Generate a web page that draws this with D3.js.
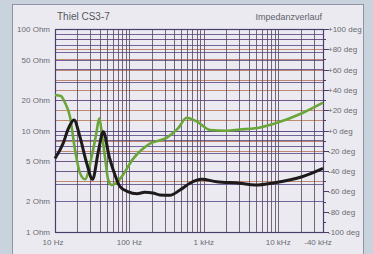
<!DOCTYPE html>
<html>
<head>
<meta charset="utf-8">
<script src="https://cdn.jsdelivr.net/npm/d3@7"></script>
<style>
  html, body { margin: 0; padding: 0; background: #c9d3de; }
  svg { display: block; font-family: "Liberation Sans", Arial, sans-serif; }
</style>
</head>
<body>
<div id="chart"></div>
<script>
// impedance curve (black), Ohm
const zFreq = [10, 12.9, 15, 18, 21.6, 26.7, 32, 38.2, 44.6, 53.6, 64, 74.8, 95, 127, 160, 207, 257, 350, 478, 650, 935, 1490, 3040, 4900, 9000, 20900, 40000];
const zOhm  = [5.3, 7.5, 10.3, 12.7, 8.7, 4.75, 3.3, 6.2, 9.7, 5.5, 3.65, 2.8, 2.5, 2.38, 2.46, 2.42, 2.32, 2.3, 2.59, 3.02, 3.3, 3.13, 3.02, 2.9, 3.06, 3.5, 4.24];

// phase curve (green), degrees
const pFreq = [10, 12, 13.5, 15.9, 18.6, 21.7, 25.3, 31.1, 35.5, 39.4, 43, 46.9, 52, 57.8, 66, 78.6, 112, 189, 320, 450, 588, 800, 1210, 2030, 3040, 4900, 9000, 20900, 40000];
const pDeg  = [35, 34, 28, 13.6, -19.2, -42, -48, -25.8, -5, 12, -5, -25.8, -48.8, -53.7, -52, -45.5, -28, -13, -7, 2, 12.5, 9, 0.5, -0.2, 1, 2.2, 7, 17, 27.4];

const ohmTicks = [1, 2, 5, 10, 20, 50, 100];
const ohmLabels = ["1 Ohm", "2 Ohm", "5 Ohm", "10 Ohm", "20 Ohm", "50 Ohm", "100 Ohm"];
const degTicks = [100, 80, 60, 40, 20, 0, -20, -40, -60, -80, -100];
const degLabels = ["+100 deg", "+80 deg", "+60 deg", "+40 deg", "+20 deg", "+0 deg", "-20 deg", "-40 deg", "-60 deg", "-80 deg", "-100 deg"];
const freqTicks = [10, 100, 1000, 10000, 40000];
const freqLabels = ["10 Hz", "100 Hz", "1 kHz", "10 kHz", "-40 kHz"];

const W = 373, H = 254;
const mLeft = 55, mRight = 323, mTop = 29, mBottom = 232;

const svg = d3.select("#chart").append("svg")
    .attr("width", W)
    .attr("height", H);

svg.append("rect")
    .attr("x", 12.5).attr("y", 4.5)
    .attr("width", 351).attr("height", 252)
    .attr("fill", "#ebeaf1")
    .attr("stroke", "#8f93a3")
    .attr("stroke-width", 1);

const x = d3.scaleLog().domain([10, 40000]).range([mLeft, mRight]);
const y = d3.scaleLog().domain([1, 100]).range([mBottom, mTop]);
const yDeg = d3.scaleLinear().domain([-100, 100]).range([mBottom, mTop]);

// grid lines
var vLines = [];
[10, 100, 1000, 10000].forEach(d => {
    for (var i = 1; i < 10; i++) { if (d * i <= 40000) vLines.push(d * i); }
});
var ohmLines = [];
[1, 10].forEach(d => {
    for (var i = 1; i <= 10; i++) { ohmLines.push(d * i); }
});
var degLines = d3.range(-50, 101, 10);

const grid = svg.append("g");
grid.selectAll(".deg").data(degLines).enter().append("line")
    .attr("x1", mLeft).attr("x2", mRight)
    .attr("y1", d => Math.round(yDeg(d)) + 0.5).attr("y2", d => Math.round(yDeg(d)) + 0.5)
    .attr("stroke", "#b7714f")
    .attr("stroke-width", 1)
    .attr("opacity", 0.8);
grid.selectAll(".ohm").data(ohmLines).enter().append("line")
    .attr("x1", mLeft).attr("x2", mRight)
    .attr("y1", d => Math.round(y(d)) + 0.5).attr("y2", d => Math.round(y(d)) + 0.5)
    .attr("stroke", "#5f4d8c")
    .attr("stroke-width", 1)
    .attr("opacity", 0.85);
grid.selectAll(".v").data(vLines).enter().append("line")
    .attr("x1", d => Math.round(x(d)) + 0.5).attr("x2", d => Math.round(x(d)) + 0.5)
    .attr("y1", mTop).attr("y2", mBottom)
    .attr("stroke", "#5a4660")
    .attr("stroke-width", 1)
    .attr("opacity", 0.8);

svg.append("rect")
    .attr("x", mLeft + 0.5).attr("y", mTop + 0.5)
    .attr("width", mRight - mLeft).attr("height", mBottom - mTop)
    .attr("fill", "none")
    .attr("stroke", "#4a3d6a")
    .attr("stroke-width", 1.2);

// right degree ticks
svg.selectAll(".dtick").data(d3.range(-100, 101, 10)).enter().append("line")
    .attr("x1", mRight).attr("x2", d => mRight + (d % 20 === 0 ? 6 : 3))
    .attr("y1", d => Math.round(yDeg(d)) + 0.5).attr("y2", d => Math.round(yDeg(d)) + 0.5)
    .attr("stroke", "#4a3d6a").attr("stroke-width", 1);

// curves
const phaseLine = d3.line()
    .x((d, i) => x(pFreq[i]))
    .y(d => yDeg(d))
    .curve(d3.curveMonotoneX);
const zLine = d3.line()
    .x((d, i) => x(zFreq[i]))
    .y(d => y(d))
    .curve(d3.curveMonotoneX);

svg.append("path").datum(pDeg)
    .attr("d", phaseLine)
    .attr("fill", "none")
    .attr("stroke", "#6aa63a")
    .attr("stroke-width", 2.6)
    .attr("stroke-linejoin", "round");
svg.append("path").datum(zOhm)
    .attr("d", zLine)
    .attr("fill", "none")
    .attr("stroke", "#1e1a1c")
    .attr("stroke-width", 3)
    .attr("stroke-linejoin", "round");

// labels
const txt = "#6a6a70";
svg.selectAll(".ol").data(ohmTicks).enter().append("text")
    .attr("x", 50).attr("y", d => y(d) + 3)
    .attr("text-anchor", "end")
    .attr("font-size", 8).attr("fill", txt)
    .text((d, i) => ohmLabels[i]);
svg.selectAll(".dl").data(degTicks).enter().append("text")
    .attr("x", 328).attr("y", d => yDeg(d) + 3)
    .attr("font-size", 8).attr("fill", txt)
    .text((d, i) => degLabels[i]);
svg.selectAll(".fl").data(freqTicks).enter().append("text")
    .attr("x", (d, i) => x(d) - (i === 4 ? 5 : (i === 0 ? 2 : 0)))
    .attr("y", 245)
    .attr("text-anchor", "middle")
    .attr("font-size", 8).attr("fill", txt)
    .text((d, i) => freqLabels[i]);

svg.append("text").attr("x", 57).attr("y", 20)
    .attr("font-size", 10).attr("fill", "#55555c")
    .text("Thiel CS3-7");
svg.append("text").attr("x", 322).attr("y", 20)
    .attr("text-anchor", "end")
    .attr("font-size", 9).attr("fill", "#60606a")
    .text("Impedanzverlauf");
</script>
</body>
</html>
